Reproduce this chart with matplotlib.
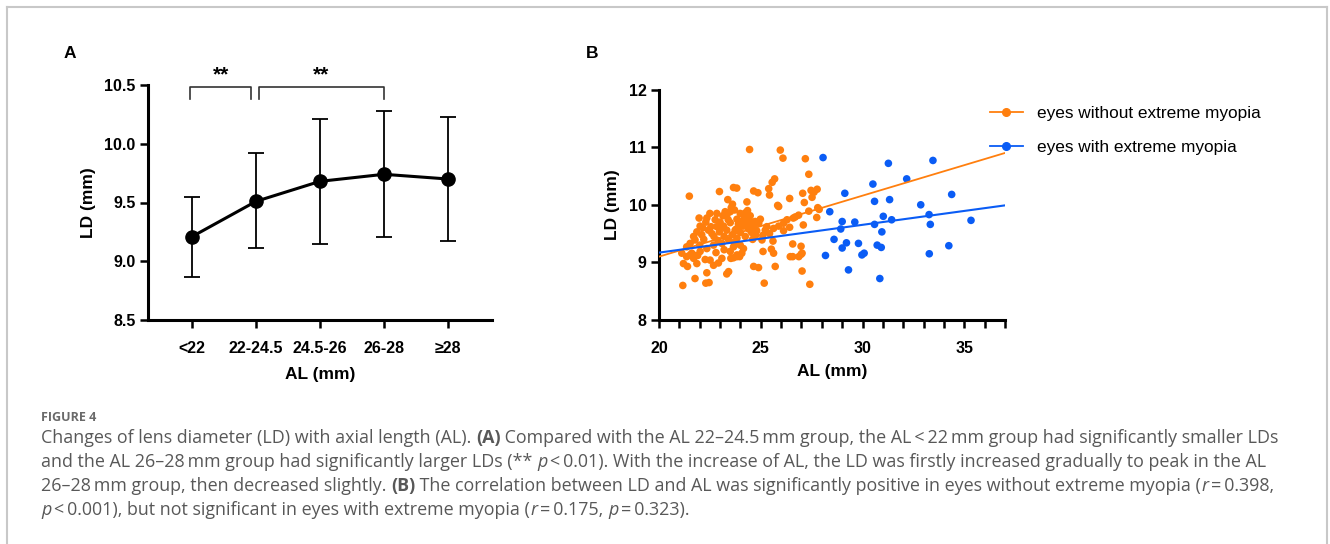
import matplotlib
matplotlib.use("Agg")
import matplotlib.pyplot as plt
from matplotlib.lines import Line2D

# Panel A: LD by AL group (mean with error bars)
groups = ["<22", "22-24.5", "24.5-26", "26-28", "≥28"]
ld_mean = [9.21, 9.51, 9.68, 9.74, 9.70]
ld_low = [8.87, 9.11, 9.15, 9.21, 9.17]
ld_high = [9.55, 9.92, 10.21, 10.28, 10.23]

# Panel B: scatter of LD vs AL
al_normal = [24.45, 25.96, 26.09, 27.19, 27.36, 25.68, 25.56, 25.39, 25.43, 21.49,
             22.97, 23.66, 23.82, 24.65, 24.86, 27.06, 27.47, 27.62, 27.77, 23.38,
             24.32, 23.61, 25.83, 25.88, 26.42, 27.14, 27.52, 27.80, 27.87, 27.36,
             27.75, 26.70, 26.86, 26.60, 26.29, 26.12, 26.42, 27.09, 21.97, 22.35,
             22.76, 23.14, 22.84, 23.33, 23.71, 23.99, 24.24, 24.48, 24.98, 24.73,
             24.32, 23.83, 23.50, 23.17, 22.84, 22.55, 22.02, 21.86, 22.10, 22.43,
             22.97, 23.33, 23.74, 24.15, 24.65, 24.90, 25.22, 25.43, 25.63, 25.88,
             25.10, 25.30, 21.53, 21.77, 21.36, 21.12, 21.53, 22.02, 22.35, 22.68,
             23.09, 23.42, 23.83, 24.24, 23.66, 23.99, 23.50, 23.83, 24.07, 24.15,
             25.06, 25.60, 26.12, 25.52, 21.20, 21.40, 21.86, 22.27, 22.51, 22.68,
             22.92, 23.09, 23.53, 23.96, 25.11, 25.63, 25.71, 26.57, 26.98, 26.45,
             26.57, 26.87, 26.98, 27.03, 21.77, 22.35, 23.33, 23.42, 24.65, 24.89,
             27.03, 21.17, 22.30, 22.46, 25.17, 27.41, 23.00, 23.50, 23.90, 24.10,
             24.40, 24.60, 24.00, 23.60, 23.20, 22.70, 22.20, 24.40, 24.80, 23.90,
             22.30, 21.70, 22.00, 21.70, 22.80, 23.20, 21.90, 24.60, 21.61, 21.69,
             21.36, 23.66, 23.83, 22.60, 23.00, 23.40, 23.80, 24.20, 24.55, 22.90,
             23.25, 23.70, 24.35, 24.75, 22.50, 23.55, 24.05, 22.15]
ld_normal = [10.96, 10.95, 10.81, 10.80, 10.53, 10.45, 10.39, 10.28, 10.17, 10.15,
             10.23, 10.30, 10.29, 10.24, 10.21, 10.20, 10.25, 10.22, 10.27, 10.09,
             10.05, 10.01, 9.99, 9.97, 10.11, 10.04, 10.13, 9.95, 9.92, 9.89,
             9.78, 9.79, 9.82, 9.77, 9.74, 9.68, 9.61, 9.65, 9.77, 9.77,
             9.74, 9.81, 9.85, 9.82, 9.91, 9.85, 9.86, 9.81, 9.75, 9.71,
             9.74, 9.75, 9.69, 9.63, 9.62, 9.62, 9.63, 9.53, 9.48, 9.56,
             9.53, 9.56, 9.56, 9.63, 9.62, 9.68, 9.56, 9.50, 9.59, 9.63,
             9.47, 9.62, 9.33, 9.39, 9.27, 9.16, 9.13, 9.19, 9.24, 9.30,
             9.33, 9.39, 9.42, 9.45, 9.27, 9.30, 9.19, 9.13, 9.16, 9.24,
             9.39, 9.37, 9.55, 9.23, 8.98, 8.93, 8.98, 9.05, 9.04, 8.95,
             8.99, 9.07, 9.07, 9.10, 9.19, 9.16, 8.93, 9.32, 9.28, 9.10,
             9.10, 9.10, 9.14, 9.16, 8.72, 8.82, 8.80, 8.84, 8.93, 8.91,
             8.85, 8.60, 8.64, 8.65, 8.64, 8.62, 9.70, 9.88, 9.67, 9.72,
             9.66, 9.70, 9.52, 9.48, 9.45, 9.45, 9.40, 9.58, 9.55, 9.60,
             9.70, 9.45, 9.30, 9.07, 9.17, 9.22, 9.12, 9.40, 9.16, 9.13,
             9.10, 9.08, 9.10, 9.50, 9.60, 9.74, 9.58, 9.78, 9.52, 9.38,
             9.88, 9.35, 9.90, 9.47, 9.85, 9.95, 9.64, 9.60]

al_extreme = [28.06, 31.27, 33.46, 32.17, 30.51, 29.13, 34.38, 30.59, 31.33, 28.39,
              32.86, 33.27, 35.33, 31.02, 31.43, 29.00, 29.62, 30.59, 28.93, 33.33,
              30.95, 28.60, 29.00, 29.21, 29.80, 30.72, 30.92, 29.97, 30.08, 28.18,
              34.24, 33.28, 29.31, 30.85]
ld_extreme = [10.82, 10.72, 10.77, 10.45, 10.36, 10.20, 10.18, 10.06, 10.09, 9.88,
              10.00, 9.83, 9.73, 9.80, 9.74, 9.71, 9.70, 9.66, 9.58, 9.66,
              9.53, 9.40, 9.25, 9.34, 9.33, 9.30, 9.26, 9.13, 9.16, 9.12,
              9.29, 9.15, 8.87, 8.72]

# regression lines (AL 20 -> 37)
fit_al = [20, 37]
fit_normal = [9.10, 10.90]
fit_extreme = [9.17, 9.99]

ORANGE = "#ff7f0e"
BLUE = "#0a5cf5"
BOLD_FONT = ["Liberation Sans", "DejaVu Sans"]

W, H = 1330, 544
fig = plt.figure(figsize=(W / 100, H / 100), dpi=100)


def px_box(left, top, right, bottom):
    return [left / W, 1 - bottom / H, (right - left) / W, (bottom - top) / H]


def style_axes(ax):
    for side in ["top", "right"]:
        ax.spines[side].set_visible(False)
    for side in ["left", "bottom"]:
        ax.spines[side].set_linewidth(2.2)
    ax.tick_params(width=1.8, length=6, direction="out")
    ax.tick_params(which="minor", width=1.8, length=6, direction="out")
    for lab in ax.get_xticklabels() + ax.get_yticklabels():
        lab.set_fontweight("bold")
        lab.set_fontsize(11.5)
        lab.set_family(BOLD_FONT)


# ---- Panel A ----
axA = fig.add_axes(px_box(148, 85, 492, 320))
xs = list(range(len(groups)))
yerr = [[m - lo for m, lo in zip(ld_mean, ld_low)], [hi - m for m, hi in zip(ld_mean, ld_high)]]
axA.errorbar(xs, ld_mean, yerr=yerr, fmt="none", ecolor="black", elinewidth=1.3,
             capsize=6, capthick=1.3, zorder=2)
axA.plot(xs, ld_mean, color="black", lw=2.2, marker="o", markersize=9.5, zorder=3)
axA.set_xlim(-0.69, 4.69)
axA.set_ylim(8.5, 10.5)
axA.set_yticks([8.5, 9.0, 9.5, 10.0, 10.5])
axA.set_xticks(xs)
axA.set_xticklabels(groups)
style_axes(axA)
axA.tick_params(axis="x", pad=9)
axA.tick_params(axis="y", pad=3)
axA.set_xlabel("AL (mm)", fontsize=12.5, fontweight="bold", family=BOLD_FONT, labelpad=8)
axA.set_ylabel("LD (mm)", fontsize=12.5, fontweight="bold", family=BOLD_FONT, labelpad=6)

# significance brackets
brackets = [(-0.03, 0.92), (1.04, 3.0)]
for x0, x1 in brackets:
    axA.plot([x0, x0, x1, x1], [10.38, 10.48, 10.48, 10.38], color="#333333", lw=1.2,
             clip_on=False)
    axA.text((x0 + x1) / 2, 10.59, "**", ha="center", va="center", fontsize=15,
             fontweight="bold", family=BOLD_FONT, clip_on=False)

fig.text(70 / W, 1 - 53 / H, "A", fontsize=12.5, fontweight="bold", family=BOLD_FONT,
         ha="center", va="center")

# ---- Panel B ----
axB = fig.add_axes(px_box(659, 89.6, 1005, 320))
axB.scatter(al_normal, ld_normal, s=30, color=ORANGE, edgecolors="none", zorder=2)
axB.scatter(al_extreme, ld_extreme, s=30, color=BLUE, edgecolors="none", zorder=2)
axB.plot(fit_al, fit_normal, color=ORANGE, lw=1.3, zorder=3)
axB.plot(fit_al, fit_extreme, color=BLUE, lw=1.5, zorder=3)
axB.set_xlim(20, 37)
axB.set_ylim(8, 12)
axB.set_xticks([20, 25, 30, 35])
axB.set_xticks(range(20, 38), minor=True)
axB.set_yticks([8, 9, 10, 11, 12])
style_axes(axB)
axB.tick_params(axis="x", pad=9)
axB.tick_params(axis="y", pad=3)
axB.set_xlabel("AL (mm)", fontsize=12.5, fontweight="bold", family=BOLD_FONT, labelpad=6)
axB.set_ylabel("LD (mm)", fontsize=12.5, fontweight="bold", family=BOLD_FONT, labelpad=6)

fig.text(592 / W, 1 - 53 / H, "B", fontsize=12.5, fontweight="bold", family=BOLD_FONT,
         ha="center", va="center")

handles = [Line2D([], [], color=ORANGE, marker="o", markersize=5.5, lw=1.3),
           Line2D([], [], color=BLUE, marker="o", markersize=5.5, lw=1.3)]
fig.legend(handles, ["eyes without extreme myopia", "eyes with extreme myopia"],
           loc="upper left", bbox_to_anchor=(990 / W, 1 - 106 / H), frameon=False,
           handlelength=1.9, handletextpad=0.85, labelspacing=1.1,
           prop={"family": BOLD_FONT, "size": 12.4}, borderpad=0, borderaxespad=0)

# ---- frame around the figure ----
frame_kw = dict(color="#c8c8c8", lw=1.5, transform=fig.transFigure)
fig.add_artist(Line2D([7 / W, 7 / W], [0, 1 - 7 / H], **frame_kw))
fig.add_artist(Line2D([7 / W, 1327 / W], [1 - 7 / H, 1 - 7 / H], **frame_kw))
fig.add_artist(Line2D([1327 / W, 1327 / W], [1 - 7 / H, 0], **frame_kw))

# ---- caption ----
CAP_FONT = ["Open Sans", "DejaVu Sans"]
CAP_COLOR = "#585858"
CAP_SIZE = 12.9
caption_lines = [
    [("Changes of lens diameter (LD) with axial length (AL). ", "n"), ("(A)", "b"),
     (" Compared with the AL 22\u201324.5\u2009mm group, the AL\u2009<\u200922\u2009mm group had significantly smaller LDs", "n")],
    [("and the AL 26\u201328\u2009mm group had significantly larger LDs (** ", "n"), ("p", "i"),
     ("\u2009<\u20090.01). With the increase of AL, the LD was firstly increased gradually to peak in the AL", "n")],
    [("26\u201328\u2009mm group, then decreased slightly. ", "n"), ("(B)", "b"),
     (" The correlation between LD and AL was significantly positive in eyes without extreme myopia (", "n"),
     ("r", "i"), ("\u2009=\u20090.398,", "n")],
    [("p", "i"), ("\u2009<\u20090.001), but not significant in eyes with extreme myopia (", "n"), ("r", "i"),
     ("\u2009=\u20090.175, ", "n"), ("p", "i"), ("\u2009=\u20090.323).", "n")],
]

cap_ax = fig.add_axes([0, 0, 1, 1])
cap_ax.set_axis_off()
cap_ax.patch.set_visible(False)

cap_ax.text(41 / W, 1 - 421 / H, "FIGURE 4", fontsize=9, fontweight="bold", color="#6a6a6a",
            family=CAP_FONT, ha="left", va="baseline", transform=cap_ax.transAxes)

for i, segs in enumerate(caption_lines):
    y = 1 - (447 + i * 23.9) / H
    prev = None
    for txt, st in segs:
        kw = dict(fontsize=CAP_SIZE, color=CAP_COLOR, family=CAP_FONT,
                  fontweight="bold" if st == "b" else "normal",
                  fontstyle="italic" if st == "i" else "normal",
                  ha="left", va="bottom")
        if prev is None:
            prev = cap_ax.text(41 / W, y, txt, transform=cap_ax.transAxes, **kw)
        else:
            prev = cap_ax.annotate(txt, xy=(1, 0), xycoords=prev, annotation_clip=False, **kw)

fig.savefig("out.png", dpi=100)
